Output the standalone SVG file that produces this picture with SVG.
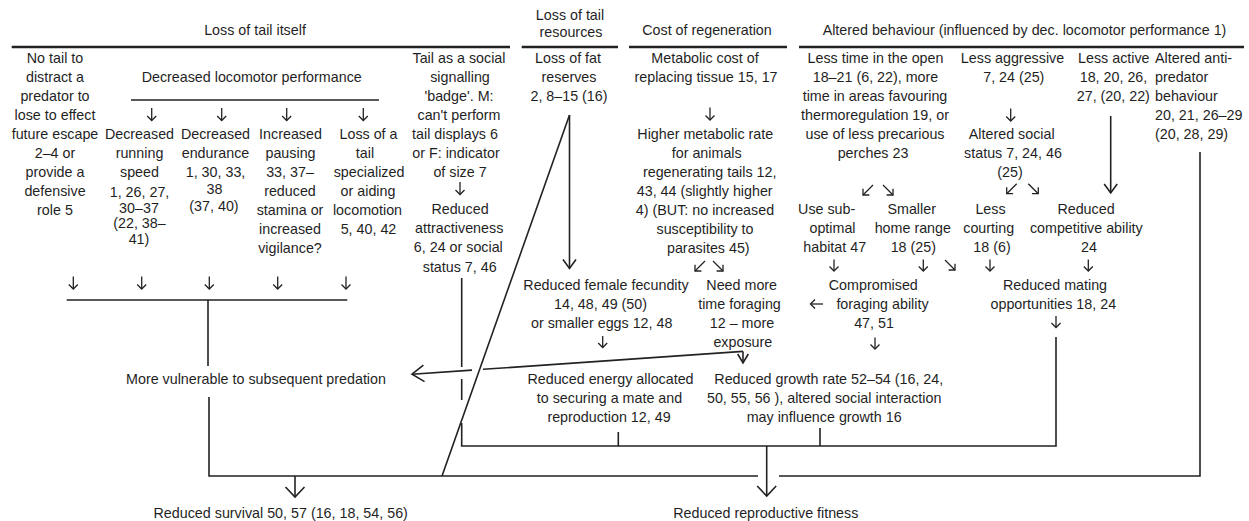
<svg xmlns="http://www.w3.org/2000/svg" width="1249" height="521" viewBox="0 0 1249 521">
<defs>
<style>
text{font-family:"Liberation Sans",Arial,Helvetica,sans-serif;font-size:14.3px;fill:#1f1f1f;text-anchor:middle}
.l{text-anchor:start}
.hl{stroke:#222;stroke-width:2.3;fill:none}
.c{stroke:#222;stroke-width:1.6;fill:none}
.g{stroke:#222;stroke-width:1.3;fill:none}
</style>
<marker id="as" markerUnits="userSpaceOnUse" viewBox="-15 -15 30 30" markerWidth="30" markerHeight="30" refX="0" refY="0" orient="auto"><path d="M-4.5,-4.5L0,0L-4.5,4.5" fill="none" stroke="#222" stroke-width="1.3"/></marker>
<marker id="am" markerUnits="userSpaceOnUse" viewBox="-15 -15 30 30" markerWidth="30" markerHeight="30" refX="0" refY="0" orient="auto"><path d="M-9,-6.5L0,0L-9,6.5" fill="none" stroke="#222" stroke-width="1.6"/></marker>
<marker id="al" markerUnits="userSpaceOnUse" viewBox="-15 -15 30 30" markerWidth="30" markerHeight="30" refX="0" refY="0" orient="auto"><path d="M-10,-9.5L0,0L-10,9.5" fill="none" stroke="#222" stroke-width="1.6"/></marker>
<marker id="av" markerUnits="userSpaceOnUse" viewBox="-15 -15 30 30" markerWidth="30" markerHeight="30" refX="0" refY="0" orient="auto"><path d="M-12,-8.3L0,0L-12,8.3" fill="none" stroke="#222" stroke-width="1.6"/></marker>
<marker id="ag" markerUnits="userSpaceOnUse" viewBox="-15 -15 30 30" markerWidth="30" markerHeight="30" refX="0" refY="0" orient="auto"><path d="M-9,-5.3L0,0L-9,5.3" fill="none" stroke="#222" stroke-width="1.6"/></marker>
</defs>
<rect width="1249" height="521" fill="#fff"/>

<g id="hdr-loss-itself">
<text x="255" y="35">Loss of tail itself</text>
<path class="hl" d="M11.7,47H510"/>
</g>
<g id="hdr-loss-resources">
<text x="570" y="20">Loss of tail</text>
<text x="571" y="36.5">resources</text>
<path class="hl" d="M521.7,47H618"/>
</g>
<g id="hdr-cost">
<text x="707" y="35">Cost of regeneration</text>
<path class="hl" d="M629,47H787"/>
</g>
<g id="hdr-behaviour">
<text x="1024.5" y="35">Altered behaviour (influenced by dec. locomotor performance 1)</text>
<path class="hl" d="M799,47H1244"/>
</g>

<g id="no-tail">
<text x="55" y="63">No tail to</text>
<text x="55" y="82">distract a</text>
<text x="55" y="101">predator to</text>
<text x="55" y="120">lose to effect</text>
<text x="55" y="139">future escape</text>
<text x="55" y="158">2–4 or</text>
<text x="55" y="177">provide a</text>
<text x="55" y="196">defensive</text>
<text x="55" y="215">role 5</text>
</g>
<g id="dec-locomotor">
<text x="251.7" y="82">Decreased locomotor performance</text>
</g>
<g id="running-speed">
<text x="139.5" y="139">Decreased</text>
<text x="139.5" y="158">running</text>
<text x="139.5" y="177">speed</text>
<text x="139.5" y="196.5">1, 26, 27,</text>
<text x="139" y="212.5">30–37</text>
<text x="139.5" y="228.3">(22, 38–</text>
<text x="139" y="244.3">41)</text>
</g>
<g id="endurance">
<text x="215.5" y="139">Decreased</text>
<text x="215.5" y="158">endurance</text>
<text x="215.5" y="177">1, 30, 33,</text>
<text x="214.5" y="194">38</text>
<text x="214" y="210.5">(37, 40)</text>
</g>
<g id="pausing">
<text x="290.5" y="139">Increased</text>
<text x="290.5" y="158">pausing</text>
<text x="290" y="177">33, 37–</text>
<text x="290" y="196">reduced</text>
<text x="290" y="215">stamina or</text>
<text x="290" y="234">increased</text>
<text x="290" y="253">vigilance?</text>
</g>
<g id="loss-specialized">
<text x="368.5" y="139">Loss of a</text>
<text x="365" y="158">tail</text>
<text x="369" y="177">specialized</text>
<text x="368" y="196">or aiding</text>
<text x="367.5" y="215">locomotion</text>
<text x="368.5" y="234">5, 40, 42</text>
</g>
<g id="social-badge">
<text x="459" y="63">Tail as a social</text>
<text x="460" y="82">signalling</text>
<text x="459" y="101">'badge'. M:</text>
<text x="459" y="120">can't perform</text>
<text x="455" y="139">tail displays 6</text>
<text x="456" y="158">or F: indicator</text>
<text x="460" y="177">of size 7</text>
</g>
<g id="reduced-attractiveness">
<text x="460" y="214.3">Reduced</text>
<text x="459.2" y="233.3">attractiveness</text>
<text x="458.3" y="252.3">6, 24 or social</text>
<text x="459.7" y="271.7">status 7, 46</text>
</g>
<g id="fat-reserves">
<text x="568" y="63">Loss of fat</text>
<text x="569" y="82">reserves</text>
<text x="569" y="101">2, 8–15 (16)</text>
</g>
<g id="female-fecundity">
<text x="606" y="290">Reduced female fecundity</text>
<text x="600.5" y="309">14, 48, 49 (50)</text>
<text x="601.7" y="328">or smaller eggs 12, 48</text>
</g>
<g id="metabolic-cost">
<text x="705" y="63">Metabolic cost of</text>
<text x="706" y="82">replacing tissue 15, 17</text>
</g>
<g id="metabolic-rate">
<text x="705.3" y="139">Higher metabolic rate</text>
<text x="706.7" y="158">for animals</text>
<text x="709.7" y="177">regenerating tails 12,</text>
<text x="704.7" y="196">43, 44 (slightly higher</text>
<text x="705" y="215">4) (BUT: no increased</text>
<text x="705" y="234">susceptibility to</text>
<text x="708.3" y="253">parasites 45)</text>
</g>
<g id="foraging-time">
<text x="741.7" y="290">Need more</text>
<text x="739.5" y="309">time foraging</text>
<text x="742" y="328">12 – more</text>
<text x="742.8" y="347">exposure</text>
</g>
<g id="less-time-open">
<text x="875.5" y="63">Less time in the open</text>
<text x="875.5" y="82">18–21 (6, 22), more</text>
<text x="875" y="101">time in areas favouring</text>
<text x="875" y="120">thermoregulation  19, or</text>
<text x="875" y="139">use of less precarious</text>
<text x="873" y="158">perches 23</text>
</g>
<g id="less-aggressive">
<text x="1012.5" y="63">Less aggressive</text>
<text x="1013.8" y="82">7, 24 (25)</text>
</g>
<g id="social-status">
<text x="1011.7" y="139">Altered social</text>
<text x="1013" y="158">status 7, 24, 46</text>
<text x="1010" y="177">(25)</text>
</g>
<g id="less-active">
<text x="1113.8" y="63">Less active</text>
<text x="1113.5" y="82">18, 20, 26,</text>
<text x="1113.3" y="101">27, (20, 22)</text>
</g>
<g id="anti-predator">
<text class="l" x="1155" y="63">Altered anti-</text>
<text class="l" x="1155" y="82">predator</text>
<text class="l" x="1155" y="101">behaviour</text>
<text class="l" x="1155" y="120">20, 21, 26–29</text>
<text class="l" x="1155" y="139">(20, 28, 29)</text>
</g>
<g id="suboptimal-habitat">
<text x="826.7" y="214.3">Use sub-</text>
<text x="832.5" y="233.3">optimal</text>
<text x="834.7" y="252.3">habitat 47</text>
</g>
<g id="home-range">
<text x="911.7" y="214.3">Smaller</text>
<text x="912.8" y="233.3">home range</text>
<text x="913.3" y="252.3">18 (25)</text>
</g>
<g id="less-courting">
<text x="990.5" y="214.3">Less</text>
<text x="988.7" y="233.3">courting</text>
<text x="992" y="252.3">18 (6)</text>
</g>
<g id="competitive-ability">
<text x="1086" y="214.3">Reduced</text>
<text x="1086.3" y="233.3">competitive ability</text>
<text x="1089" y="252.3">24</text>
</g>
<g id="foraging-ability">
<text x="873.3" y="290">Compromised</text>
<text x="882.5" y="309">foraging ability</text>
<text x="874" y="328">47, 51</text>
</g>
<g id="mating-opportunities">
<text x="1055" y="290">Reduced mating</text>
<text x="1053.3" y="309">opportunities 18, 24</text>
</g>
<g id="vulnerable">
<text x="256" y="384.3">More vulnerable to subsequent predation</text>
</g>
<g id="reduced-energy">
<text x="610.5" y="384.3">Reduced energy allocated</text>
<text x="609.5" y="403">to securing a mate and</text>
<text x="609" y="422">reproduction 12, 49</text>
</g>
<g id="growth-rate">
<text x="828.8" y="384.3">Reduced growth rate  52–54 (16, 24,</text>
<text x="824.2" y="403">50, 55, 56 ), altered social interaction</text>
<text x="824.2" y="422">may influence growth 16</text>
</g>
<g id="reduced-survival">
<text x="280.7" y="518.3">Reduced survival 50, 57 (16, 18, 54, 56)</text>
</g>
<g id="reproductive-fitness">
<text x="765.8" y="518.3">Reduced reproductive fitness</text>
</g>

<g id="connectors">
<path class="c" d="M131,100H379"/>
<path class="c" d="M66.7,300H347.3"/>
<path class="c" d="M208,300V366"/>
<path class="c" d="M209,397V476H758"/>
<path class="c" d="M779,476H1200V152"/>
<path class="c" d="M295,476V497" marker-end="url(#al)"/>
<path class="c" d="M569.5,115L442,476"/>
<path class="c" d="M569.5,115V268.5" marker-end="url(#am)"/>
<path class="c" d="M461.7,278V367M461.7,379V400M461.7,423V446H1056V337"/>
<path class="c" d="M618.3,432V446M820,428V446"/>
<path class="c" d="M766.7,446V496" marker-end="url(#al)"/>
<path class="c" d="M743,351.4L483,369.3"/>
<path class="c" d="M472,370.1L412,374.2" marker-end="url(#av)"/>
<path class="c" d="M743,351.4V363" marker-end="url(#ag)"/>
<path class="c" d="M1110.7,116V193" marker-end="url(#am)"/>
<g class="g">
<path d="M151.7,108V120.5" marker-end="url(#as)"/>
<path d="M221.7,108V120.5" marker-end="url(#as)"/>
<path d="M286.7,108V120.5" marker-end="url(#as)"/>
<path d="M363.3,108V120.5" marker-end="url(#as)"/>
<path d="M73.3,276.5V289" marker-end="url(#as)"/>
<path d="M141.7,276.5V289" marker-end="url(#as)"/>
<path d="M209.3,276.5V289" marker-end="url(#as)"/>
<path d="M277.7,276.5V289" marker-end="url(#as)"/>
<path d="M346,276.5V289" marker-end="url(#as)"/>
<path d="M460,182V194.5" marker-end="url(#as)"/>
<path d="M710,107.5V120" marker-end="url(#as)"/>
<path d="M1010.7,108.5V121" marker-end="url(#as)"/>
<path d="M602.7,336V347.5" marker-end="url(#as)"/>
<path d="M834,259.5V271" marker-end="url(#as)"/>
<path d="M923.3,259.5V271" marker-end="url(#as)"/>
<path d="M990,259.5V271" marker-end="url(#as)"/>
<path d="M1088.3,259.5V271" marker-end="url(#as)"/>
<path d="M875,337.5V349" marker-end="url(#as)"/>
<path d="M1056,316V327.5" marker-end="url(#as)"/>
<path d="M705,261L695,271" marker-end="url(#as)"/>
<path d="M713,261L723,271" marker-end="url(#as)"/>
<path d="M873,185L863,195" marker-end="url(#as)"/>
<path d="M883,185L893,195" marker-end="url(#as)"/>
<path d="M1016.7,183.7L1006.7,193.7" marker-end="url(#as)"/>
<path d="M1028.3,183.7L1038.3,193.7" marker-end="url(#as)"/>
<path d="M945,260L955,270" marker-end="url(#as)"/>
<path d="M823,304H810.5" marker-end="url(#as)"/>
</g>
</g>
</svg>
